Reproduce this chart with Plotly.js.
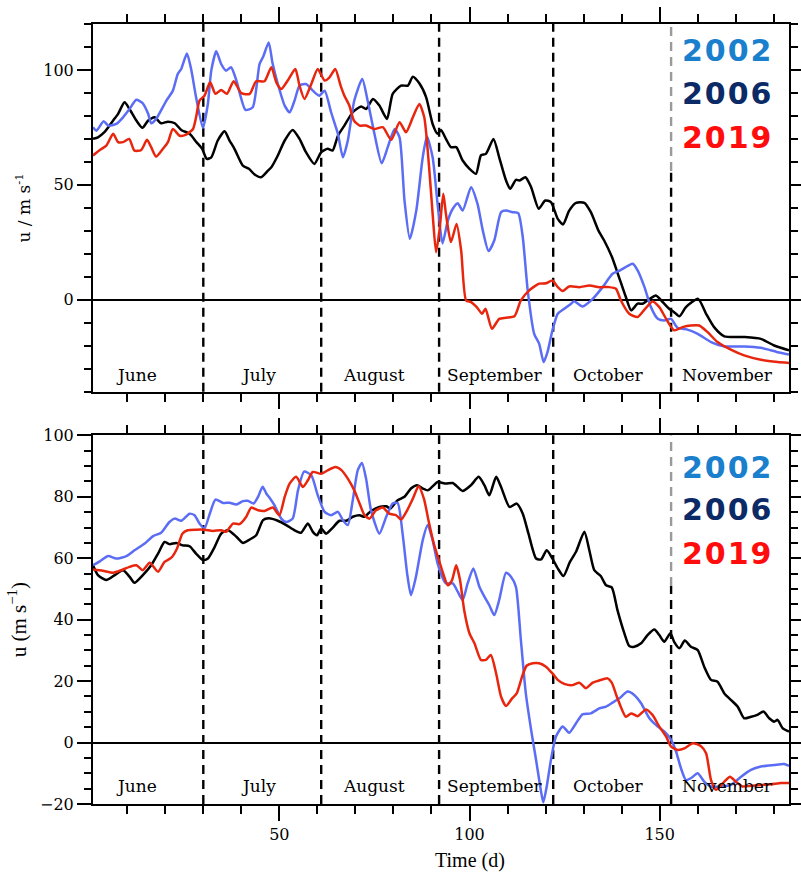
<!DOCTYPE html>
<html>
<head>
<meta charset="utf-8">
<script src="https://cdn.plot.ly/plotly-3.0.1.min.js"></script>
<style>
html,body{margin:0;padding:0;background:#fff;}
text[style*="font-size: 30px"]{letter-spacing:2px;}
</style>
</head>
<body>
<div id="chart" style="width:801px;height:873px;"></div>
<script>
// ---------- DATA ----------
// Top panel
const topBlueX = [1,1.9,3.8,5,7.1,8.9,10.6,12.4,14.1,15.5,16.3,17.6,20.3,22,23.3,24.2,25.7,26.8,28.1,29.9,31.2,32.1,33.4,34.7,36,37.3,38.7,41.1,43,44.8,45.8,47.2,48.2,49.6,51.4,52.7,54,55.3,57,58.8,60.5,61.9,63.6,65.4,66.7,68,69.7,71.8,73.2,75,76.9,78.5,80.3,81.6,82.9,84.3,86,87.7,88.8,90.3,91.6,92.9,94.3,95.6,96.9,98.2,100.4,102.1,103.5,105,106.5,108.3,109.6,111.3,112.8,114,115.3,117,118.3,119.5,120.5,121.8,123.2,124.9,126.7,127.5,129.7,132.4,135,137.6,139.6,142.9,144.2,146,147.7,149.5,151.2,153,154.7,157.3,160,163.5,167,172.2,176.6,181,184];
const topBlueY = [75.1,73.6,77.7,75.8,76.5,79.4,83,87,85.5,80.9,76.8,78.7,86.7,91,98.3,100.4,107.2,100.4,88.1,74.8,85.2,99.7,108.1,102.6,99.7,101.2,95.4,82.6,83.8,102.6,106,112,103,93.9,84.5,81.6,86.7,93.2,93.9,91,88.8,91,81.6,72.2,62,69.3,86.7,96.1,86.7,72.2,59.4,66.4,74.3,70.7,43.2,26.5,38.8,62,71,62,41.7,24.5,34.5,39.6,42,38.8,49,41.7,30.1,21.2,25.8,38.1,38.8,38.1,37.7,27.2,4.1,-14.8,-19.1,-27.1,-22.8,-13.3,-6.1,-3.9,-1.7,-0.6,-2.9,0.4,5.5,11.3,12.8,15.7,12.8,5.5,-3.2,-8.3,-9,-8.3,-12.2,-13,-14.8,-18.4,-20.3,-20.3,-20.9,-22.8,-23.8];

const topBlackX = [1,2.3,4,6.3,7.6,9.3,10.6,12.4,14,15.5,17.2,18.9,20.7,22.5,24.2,26.4,28.2,29.7,30.9,32.1,33.8,35.6,36.9,38.2,40.4,42,43.5,45.2,47,47.9,49.6,51.4,53.5,55.3,57,59.2,61,62.7,64,65.4,67.1,69.3,71.5,72.8,74.6,76.3,78.3,79.8,82,83.8,85.1,86.8,88.6,90.3,91.6,92.5,93.8,95.1,96.5,98.2,100,101.7,103,104.3,106.3,107.8,109.6,110.7,112.2,113.1,114.7,116.2,118.2,119.9,121.4,123.2,124.6,126.2,128,130.2,131.9,133.9,135.4,137.4,139,141.1,142.5,144.2,145.5,146.8,149,150.8,152.5,153.8,155.2,156.9,160.1,162.2,164.3,167,172.2,176.6,180.1,184];
const topBlackY = [70,70.7,72.9,78,80.9,85.9,83,78,74.8,78,79.4,76.8,77.5,76.8,73.9,72.2,68.6,65.7,61.3,62,69.3,73.3,69.3,65.7,58.4,57,54.5,53.3,56.2,57.7,62.8,69.3,73.9,70,64.2,59.1,64.2,65.7,64.9,71.4,75.8,81.6,84.1,83,87.4,84.5,78.7,89.6,93.2,93.2,97.1,94.2,88.1,76.5,72.2,73.9,70,66.4,66.4,60.6,57,54.8,62.8,63.5,70,62,51.9,48.3,52.2,51.9,53.3,49,39.6,43.2,42.5,35.2,32.8,38.8,42.2,42.2,38.1,30.1,25.8,18.8,11.3,1.2,-4.6,-1.7,-1.7,-0.3,1.9,-1,-3.9,-5.4,-7.2,-3.2,0.4,-6.1,-11.9,-15.9,-16.2,-17,-19.9,-22];

const topRedX = [1,2.8,4.5,6.3,7.6,8.9,10.5,11.9,13.7,15.2,16.3,17.6,19.4,20.7,22,23.8,25.5,27.3,28.1,29,30.3,31.8,33.2,34.7,36.2,38,40,42.2,43.9,46.1,47.9,49.2,50.5,52.2,54.2,55.3,56.6,58.4,60.1,61.9,63.2,64.7,66.1,67.1,68.4,69.6,71.1,72.8,75,77.2,79.4,81.6,83.3,85.1,86.8,88.1,89.3,90.3,91.2,92.1,93.1,93.8,95.1,96.6,97.8,99.1,100.4,101.9,103.3,104.2,105.9,107.8,109.6,111.8,113.5,115.7,118.3,120.1,121.8,123.2,124.5,126.2,128.9,131.5,134.1,136.7,138.5,139.8,142,144.2,146,148.1,149.9,151.7,153.8,156,158.2,160.4,162.6,165.2,168.7,172.2,176.6,181,184];
const topRedY = [62.8,65.2,67.1,72.2,68.6,68.6,70,64.9,65.2,69.6,66.4,62.3,65.7,68.6,74.3,71.4,71.9,74.3,79.4,86.7,88.8,94.6,89.6,91.3,89.6,95.1,89.9,89.6,95.1,95.1,101.2,94.6,91.7,95.4,100.4,93.2,87.4,93.9,100.4,95.4,96.8,100.4,93.2,88.8,84.5,78,75.8,75.8,74.3,75.1,69.6,77.2,72.9,79.4,85.2,79.4,59.1,37.4,20.7,30.1,46.1,37.4,25.1,33,21.4,-0.3,-1,-3.2,-6.1,-3.9,-12.6,-8.3,-7.8,-7.2,-0.3,4.1,7,7.2,8.4,5.5,3.8,5.8,5.5,6.2,5.5,5.5,4.8,-0.3,-6.1,-7.5,-4.3,-0.7,-3.2,-8.3,-13.3,-11.9,-11.2,-11.2,-14.1,-18.4,-21.7,-24.2,-26.1,-27.1,-27.5];

// Bottom panel
const botBlueX = [1,2.8,5,7.1,9.8,11.9,14.6,16.8,18.9,21.1,22.5,24.2,26.4,27.7,29,30.3,31.7,33.2,35.2,36.9,38.7,40.4,41.7,43.2,44.4,45.6,46.6,47.6,48.7,50.5,51.8,53.5,54.9,56.5,58.4,60.1,61.9,63.6,65.4,66.7,68,69.3,70.6,71.7,72.8,74.1,76.3,78.1,79.8,81.1,82.4,83.6,84.6,85.9,87.7,89,90.3,91.6,93.2,93.8,95.6,96.9,98.2,99.5,101,102.6,103.9,105.2,106.5,107.8,109.6,110.9,112.2,113.5,114.8,116.2,117.5,118.8,119.4,120.3,121.4,122.7,124.5,126.2,128,129.7,131.9,134.1,135.9,137.6,139.4,141.6,143.3,145.1,147.3,149.5,151.2,153,154.3,155.6,156.9,158.2,160,161.7,163.5,166.1,168.7,171.4,174,176.6,180.1,182.7,184];
const botBlueY = [57.7,59,60.7,59.9,60.7,62.6,64.8,67.2,68.3,71.8,72.9,72.2,74.5,74,71.3,69.7,74.5,79.1,78,78.1,77.5,78.6,78.7,77.8,80,83.3,81,79.4,77.3,72.9,71.8,72.9,82.1,88.2,87,80.5,75.1,74,75.1,72.4,70.8,78.9,88.6,91,85.9,75.6,68,73.5,77.8,78,68,55,48,53.9,65.9,70.8,65.9,58.3,52.9,51.8,51.8,49.1,46.4,51.8,56.7,50.7,47.5,44.7,41.5,46.4,55.3,54,50.7,33.4,16,4.1,-5.7,-15.9,-19.5,-14.3,-5.7,1.9,5.2,3.2,6.3,9.2,9.5,11.1,11.7,13,14.4,16.6,15.5,12.8,7.9,5.2,3.6,0.9,-2.9,-8.4,-12.2,-11.6,-10,-12.7,-14.3,-14.3,-13.8,-11.1,-8.9,-7.8,-7.3,-7,-7.6];

const botBlackX = [1,2.3,4.5,6.7,8.9,10.6,11.9,14.1,16.3,18.1,19.8,21.1,22.9,24.6,26.4,28.1,29.9,31.2,33,34.7,36.5,38.7,40.4,42.2,43.9,45.7,47.2,49.6,51.8,54,55.7,57.5,58.8,59.9,61,62.3,64,65.8,67.6,69.3,71.1,72.4,74.1,76.3,78.1,79.2,81.1,82.9,84.6,86.2,87.7,89,90.3,91.6,93.8,95.6,98.2,100.4,102.4,103.9,105.2,107,108.3,110.5,112.4,114,115.5,117.5,118.8,120.3,121.8,123.2,124.7,126.4,128,130.2,131.5,132.8,134.5,135.9,137.4,138.9,140.7,142,143.3,145.1,146.8,148.6,149.9,151.2,152.8,153.8,155.2,156.6,158.2,160,161.7,163.5,165.2,167,168.7,170.5,172.2,174,175.7,177.3,178.8,180.1,181,182.3,184];
const botBlackY = [57.7,54.5,52.9,54.5,56.1,54,52,54.5,57.7,61.5,65.3,64.6,65,64.2,63.9,61.5,59.4,59.9,63.7,68,69.1,67,65,66.1,67.5,72.4,73,72.2,70.8,69.1,68.3,71.3,68.6,67.5,69.7,68,69.9,72.2,72.2,73.5,74,73.5,75.4,76.7,76.9,76.2,78.9,80,82.7,83.8,82.7,82.1,83.4,84.8,84.3,84.5,81.9,83.8,86.5,83.8,80.5,86.5,83.2,76.7,77.8,74.5,68,59.9,59.6,62.6,59.9,56.7,54.2,58.8,62.1,68.6,62.6,56.1,54.2,51.2,50.5,43.1,35.6,31.4,31.2,32.3,35,36.8,35,32.8,35.6,32.8,30.7,33.2,31.2,30.1,24.7,20.4,19.8,16,13.9,11.7,7.9,8.4,9,10.1,7.9,6.8,7.4,4.7,3.6];

const botRedX = [1,3.6,6.3,8.4,10.6,12.4,14.1,15.9,18.1,19.8,21.6,23.1,24.5,25.9,28.1,30.3,32.5,34.7,36,37.8,39.5,41.3,42.6,44.4,46.1,48.3,50,51.4,52.7,54.4,56.2,57.5,58.8,61,62.7,64.7,66.4,68,69.7,71.1,72.4,73.7,75.4,77.2,78.9,80.7,82,83.6,85.1,86.6,88,89.3,90.6,92.1,92.9,94.3,95.4,96.5,97.5,98.6,100,101.3,103,104.3,105.6,107,108.3,109.6,111.2,112.4,113.8,115,116.6,118.3,120.1,121.8,123.2,124.9,127.1,128.9,130.6,132.4,134.1,136.3,137.4,138.9,141.1,142.5,144.2,146.4,148.1,149.9,151.7,153,154.7,156.5,158.7,160.8,162.2,163.5,164.8,167,168.5,170,171.8,174,176.6,179.2,181.9,184];
const botRedY = [56.3,55.9,55.3,56.1,57.2,57.7,56.1,58.5,55.6,58.8,60.2,63.2,68,69.1,69.3,69.3,68.9,69.1,68.6,71.3,71.1,73.5,76.5,75.6,75.4,76.5,74,80,84.3,86.5,83.2,85.4,88.1,87.5,88.6,89.7,88.6,85.9,82.1,77.8,74,72.9,75.6,76.5,74.5,74,72.6,75.6,79.4,83.4,79.4,71.8,64.8,58.8,55.6,51.2,52.9,57.7,52.9,43.1,35.5,32.3,26.9,26.9,28.5,22.5,14.9,11.9,14.4,16,21.4,25,25.8,25.8,24.7,22.5,20.4,19.1,18.7,19.5,17.7,19.5,20.2,20.9,19.5,14.4,8.4,9.5,8.6,10.8,9,5.2,1.9,-1.3,-2.4,-1.9,-0.2,-1.1,-3.5,-12.2,-15.4,-12.7,-11.1,-12.7,-14.3,-14.1,-13.8,-13.6,-13.2,-13.2];

const years = ['2002', '2006', '2019'];
const monthBounds = [30, 61, 92, 122, 153];
const monthNames = ['June', 'July', 'August', 'September', 'October', 'November'];
const monthLabelDay = [12.4, 44.6, 74.8, 106.8, 136.3, 167.8];

// ---------- STYLE ----------
const cBlue = '#5b6df5', cBlack = '#000000', cRed = '#e8260e';
const legendColors = ['#1a7fcc', '#0b2a66', '#ff0d0d'];
const serif = 'DejaVu Serif, serif';
const times = 'Liberation Serif, Times New Roman, serif';

function tr(x, y, color, xa, ya) {
  return {x: x, y: y, type: 'scatter', mode: 'lines', xaxis: xa, yaxis: ya,
    line: {color: color, width: 2.5, shape: 'spline', smoothing: 0.6},
    showlegend: false, hoverinfo: 'skip'};
}

const data = [
  tr(topBlackX, topBlackY, cBlack, 'x', 'y'),
  tr(topBlueX, topBlueY, cBlue, 'x', 'y'),
  tr(topRedX, topRedY, cRed, 'x', 'y'),
  tr(botBlackX, botBlackY, cBlack, 'x2', 'y2'),
  tr(botBlueX, botBlueY, cBlue, 'x2', 'y2'),
  tr(botRedX, botRedY, cRed, 'x2', 'y2')
];

const dashStyle = '9px,6px';
const shapes = [];
const boxBottom = {y: 56, y2: 51};
[['x', 'y'], ['x2', 'y2']].forEach(function (ax) {
  monthBounds.forEach(function (d, i) {
    const last = (i === monthBounds.length - 1);
    if (!last) {
      shapes.push({type: 'line', xref: ax[0], yref: ax[1] + ' domain', x0: d, x1: d, y0: 0, y1: 1,
        line: {color: 'black', width: 2.4, dash: dashStyle}, layer: 'below'});
    } else {
      const yb = boxBottom[ax[1]];
      shapes.push({type: 'line', xref: ax[0], yref: ax[1], x0: d, x1: d, y0: yb, y1: (ax[1] === 'y' ? 120 : 100),
        line: {color: '#9a9a9a', width: 2.4, dash: dashStyle}, layer: 'below'});
      shapes.push({type: 'line', xref: ax[0], yref: ax[1], x0: d, x1: d, y0: (ax[1] === 'y' ? -40 : -20), y1: yb,
        line: {color: 'black', width: 2.4, dash: dashStyle}, layer: 'below'});
    }
  });
});

const annotations = [];
monthNames.forEach(function (m, i) {
  annotations.push({x: monthLabelDay[i], y: -32.6, xref: 'x', yref: 'y', text: m, showarrow: false,
    font: {family: serif, size: 17, color: 'black'}});
  annotations.push({x: monthLabelDay[i], y: -14.2, xref: 'x2', yref: 'y2', text: m, showarrow: false,
    font: {family: serif, size: 17, color: 'black'}});
});
const legTopY = [108.3, 89.6, 70.4];
const legBotY = [89.5, 75.8, 61.5];
years.forEach(function (yr, i) {
  annotations.push({x: 155.4, y: legTopY[i], xref: 'x', yref: 'y', xanchor: 'left', text: '<b>' + yr + '</b>',
    showarrow: false, font: {family: 'DejaVu Sans, sans-serif', size: 30, color: legendColors[i]}});
  annotations.push({x: 155.4, y: legBotY[i], xref: 'x2', yref: 'y2', xanchor: 'left', text: '<b>' + yr + '</b>',
    showarrow: false, font: {family: 'DejaVu Sans, sans-serif', size: 30, color: legendColors[i]}});
});
annotations.push({x: 100, y: -0.072, xref: 'x2', yref: 'paper', text: 'Time (d)', showarrow: false,
  yanchor: 'middle', font: {family: times, size: 20, color: 'black'}});

function xax(showLabels, anchor) {
  return {anchor: anchor, domain: [0, 1], range: [1, 184], showline: true, linewidth: 2, linecolor: 'black',
    mirror: 'ticks', ticks: 'outside', ticklen: 15, tickwidth: 2, tickcolor: 'black',
    tickmode: 'linear', tick0: 0, dtick: 50, showticklabels: showLabels,
    tickfont: {family: serif, size: 16, color: 'black'},
    minor: {ticks: 'outside', tick0: 0, dtick: 10, ticklen: 8, tickwidth: 2, tickcolor: 'black', showgrid: false},
    showgrid: false, zeroline: false};
}
function yax(dom, rng, dt, mdt, anchor, title, tfont) {
  return {anchor: anchor, domain: dom, range: rng, showline: true, linewidth: 2, linecolor: 'black',
    mirror: 'ticks', ticks: 'outside', ticklen: 14, tickwidth: 2, tickcolor: 'black',
    tickmode: 'linear', tick0: 0, dtick: dt,
    tickfont: {family: serif, size: 16, color: 'black'},
    minor: {ticks: 'outside', tick0: 0, dtick: mdt, ticklen: 7, tickwidth: 2, tickcolor: 'black', showgrid: false},
    showgrid: false, zeroline: true, zerolinecolor: 'black', zerolinewidth: 2,
    title: {text: title, font: tfont, standoff: 8}};
}

const layout = {
  width: 801, height: 873,
  margin: {l: 93, r: 12, t: 24, b: 69},
  paper_bgcolor: 'white', plot_bgcolor: 'white',
  xaxis: xax(false, 'y'),
  yaxis: yax([0.5286, 1], [-40, 120], 50, 10, 'x', 'u / m s<sup>-1</sup>', {family: serif, size: 17, color: 'black'}),
  xaxis2: xax(true, 'y2'),
  yaxis2: yax([0, 0.4726], [-20, 100], 20, 5, 'x2', 'u (m s<sup>\u22121</sup>)', {family: times, size: 21, color: 'black'}),
  shapes: shapes,
  annotations: annotations
};

Plotly.newPlot('chart', data, layout, {displayModeBar: false, staticPlot: true});
</script>
</body>
</html>
